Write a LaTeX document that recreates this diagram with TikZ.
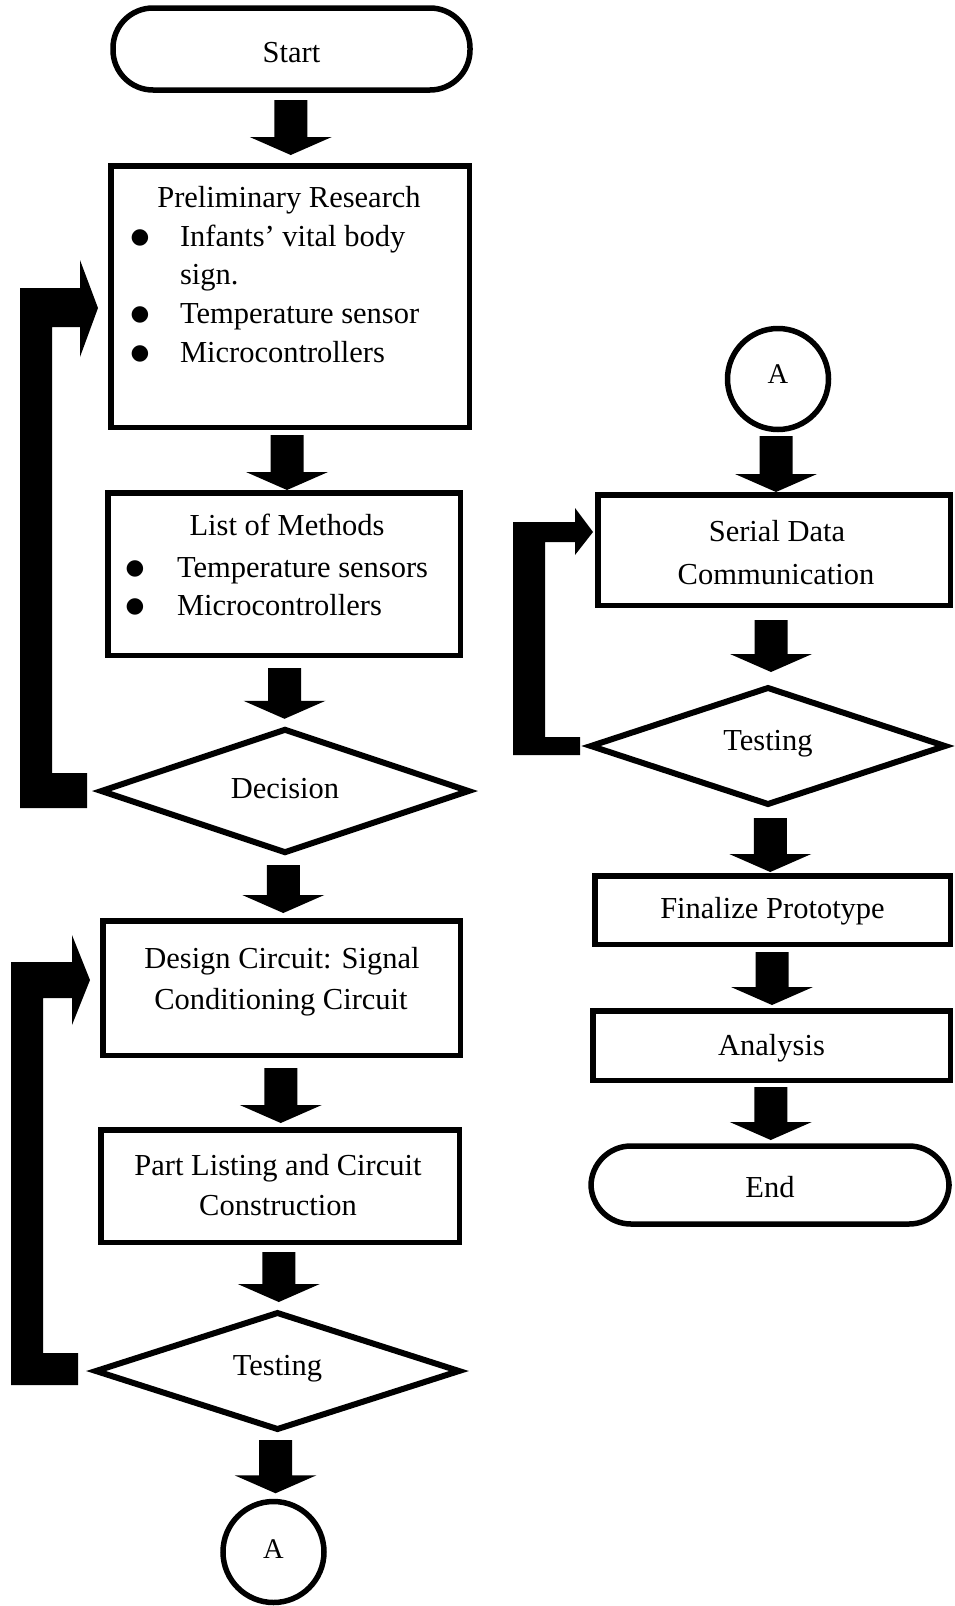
\documentclass[tikz,border=0pt]{standalone}
\usepackage{fontspec}
\setmainfont{Liberation Serif}
\newfontfamily\dejavu{DejaVu Sans}
\usetikzlibrary{shapes.geometric,calc}

\tikzset{
  every node/.style={outer sep=0pt, inner sep=0pt},
  txt/.style={font=\fontsize{30.5}{39}\selectfont},
  box/.style={draw, line width=5.5pt, rectangle, txt},
  term/.style={box, rounded corners=40pt},
  dec/.style={draw, line width=6pt, diamond, txt},
  conn/.style={draw, line width=5.5pt, circle, font=\fontsize{28.5}{30}\selectfont},
  ln/.style={txt, anchor=base west},
  ctr/.style={txt, anchor=base},
}

% bullet centred on the node's west point, followed by a gap of #1
\newcommand\bitem[1]{\makebox[0pt]{\raisebox{2.3pt}{\dejavu\fontsize{21.5}{22}\selectfont ●}}\hspace{#1}}

% block arrow from #1.south to #2.north, gap #3 at source, gap #4 at target
\newcommand\blkarrow[4]{%
  \fill let \p1=(#1.south), \p2=(#2.north),
    \n1={(\x1+\x2)/2}, \n2={\y1-#3}, \n3={\y2+#4}, \n4={\y2+#4+18}
  in (\n1-16.5,\n2) -- (\n1+16.5,\n2) -- (\n1+16.5,\n4) -- (\n1+41,\n4)
     -- (\n1,\n3) -- (\n1-41,\n4) -- (\n1-16.5,\n4) -- cycle;}

\begin{document}
\begin{tikzpicture}[x=1pt,y=1pt]
\useasboundingbox (0,0) rectangle (954,-1606);

% ---------- left column ----------
\node[term, minimum width=357pt, minimum height=82pt, text height=26pt, text depth=0pt] (start) at (291.5,-49) {Start};

\node[box, minimum width=358.5pt, minimum height=261.5pt] (prelim) at (290,-296.5) {};
\node[ctr] (prelimT) at (289,-207) {Preliminary Research};
\node[ln] (p1) at (140,-246) {\bitem{40pt}Infants’ vital body};
\node[ln] (p2) at (180,-284) {sign.};
\node[ln] (p3) at (140,-323) {\bitem{40pt}Temperature sensor};
\node[ln] (p4) at (140,-362) {\bitem{40pt}Microcontrollers};

\node[box, minimum width=352.5pt, minimum height=162.5pt] (list) at (284,-574) {};
\node[ctr] (listT) at (287,-535) {List of Methods};
\node[ln] (l1) at (135,-577) {\bitem{42pt}Temperature sensors};
\node[ln] (l2) at (135,-615) {\bitem{42pt}Microcontrollers};

\node[dec, minimum width=367pt, minimum height=116pt, text height=14pt, text depth=0pt] (decision) at (285,-791) {Decision};

\node[box, minimum width=357.5pt, minimum height=134.5pt] (design) at (281.5,-988) {};
\node[ctr] (d1) at (282,-968) {Design Circuit: Signal};
\node[ctr] (d2) at (281,-1009) {Conditioning Circuit};

\node[box, minimum width=358.5pt, minimum height=112.5pt] (part) at (280,-1186) {};
\node[ctr] (pa1) at (278,-1175) {Part Listing and Circuit};
\node[ctr] (pa2) at (278,-1215) {Construction};

\node[dec, minimum width=363pt, minimum height=116pt, text height=8pt, text depth=0pt] (test1) at (277.5,-1371) {Testing};

\node[conn, minimum size=101pt, text height=12pt, text depth=0pt] (Abot) at (273.5,-1552) {A};

% ---------- right column ----------
\node[conn, minimum size=101pt, text height=8pt, text depth=0pt] (Atop) at (778,-379) {A};

\node[box, minimum width=352.5pt, minimum height=110.5pt] (serial) at (774,-550) {};
\node[ctr] (s1) at (777,-541) {Serial Data};
\node[ctr] (s2) at (776,-584) {Communication};

\node[dec, minimum width=354pt, minimum height=116pt, text height=8pt, text depth=0pt] (test2) at (768,-746) {Testing};

\node[box, minimum width=355.5pt, minimum height=68.5pt, text height=16pt, text depth=0pt] (final) at (772.5,-910) {Finalize Prototype};
\node[box, minimum width=357.5pt, minimum height=69.5pt, text height=19pt, text depth=0pt] (anal) at (771.5,-1045.5) {Analysis};
\node[term, minimum width=358pt, minimum height=78pt, text height=24pt, text depth=0pt] (endn) at (770,-1185) {End};

% ---------- block arrows ----------
\blkarrow{start}{prelim}{10}{10.75}
\blkarrow{prelim}{list}{7.75}{2.75}
\blkarrow{list}{decision}{12.75}{11}
\blkarrow{decision}{design}{13}{7.75}
\blkarrow{design}{part}{12.75}{6.75}
\blkarrow{part}{test1}{9.75}{11}
\blkarrow{test1}{Abot}{11}{8.25}
\blkarrow{Atop}{serial}{6.5}{2.75}
\blkarrow{serial}{test2}{14.75}{16}
\blkarrow{test2}{final}{14}{3.75}
\blkarrow{final}{anal}{7.75}{5.75}
\blkarrow{anal}{endn}{6.75}{6}

% ---------- feedback loops ----------
\fill let \p1=($(decision.west)+(-14.5,0.5)$), \p2=($(prelim.west)+(-12.75,-11.5)$) in
  (\x1,\y1+17.5) -- (\x1,\y1-17.5) -- (20,\y1-17.5) -- (20,\y2+20)
  -- (\x2-18,\y2+20) -- (\x2-18,\y2+48) -- (\x2,\y2) -- (\x2-18,\y2-49)
  -- (\x2-18,\y2-19) -- (52,\y2-19) -- (52,\y1+17.5) -- cycle;

\fill let \p1=($(test1.west)+(-18,2)$), \p2=($(design.west)+(-12.75,8)$) in
  (\x1,\y1+16) -- (\x1,\y1-16) -- (11,\y1-16) -- (11,\y2+18)
  -- (\x2-18,\y2+18) -- (\x2-18,\y2+45) -- (\x2,\y2) -- (\x2-18,\y2-45)
  -- (\x2-18,\y2-18) -- (43,\y2-18) -- (43,\y1+16) -- cycle;

\fill let \p1=($(test2.west)+(-11,0)$), \p2=($(serial.west)+(-4.75,18)$) in
  (\x1,\y1+9) -- (\x1,\y1-9) -- (513,\y1-9) -- (513,\y2+10)
  -- (\x2-18,\y2+10) -- (\x2-18,\y2+24) -- (\x2,\y2) -- (\x2-18,\y2-23)
  -- (\x2-18,\y2-10) -- (545,\y2-10) -- (545,\y1+9) -- cycle;

\end{tikzpicture}
\end{document}
